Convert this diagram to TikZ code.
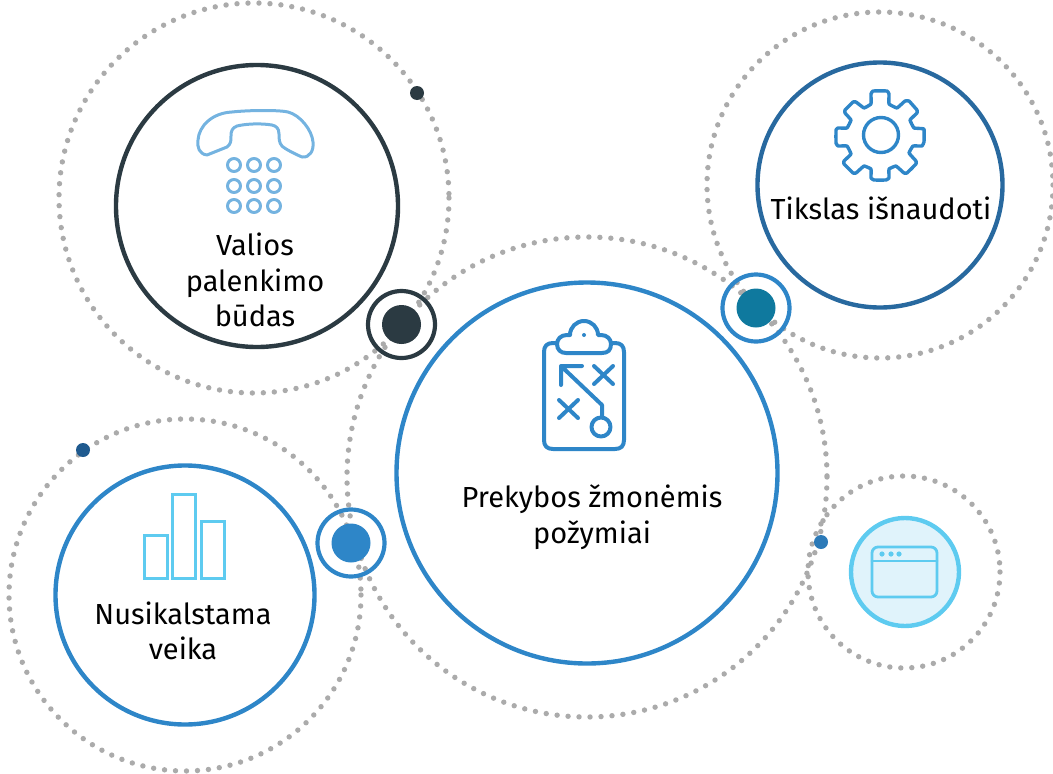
\documentclass[tikz,border=0pt]{standalone}
\usepackage{fontspec}
\setmainfont{Fira Sans}
\definecolor{dotgray}{HTML}{ABABAB}
\definecolor{darkslate}{HTML}{2B3A42}
\definecolor{midblue}{HTML}{2E86C8}
\definecolor{navyblue}{HTML}{28699F}
\definecolor{deepblue}{HTML}{1F5A8F}
\definecolor{teal}{HTML}{0F799E}
\definecolor{skyblue}{HTML}{5ECBF0}
\definecolor{phoneblue}{HTML}{74B3E0}
\definecolor{palesky}{HTML}{E0F3FB}
\tikzset{
 dotring/.style={draw=dotgray,line width=5.4pt,line cap=round,dash pattern=on 0pt off 11pt},
 bigcirc/.style={circle,draw=#1,line width=4.4pt,inner sep=0pt},
 hubring/.style={circle,draw=#1,line width=4.2pt,minimum size=67pt,inner sep=0pt},
 soliddot/.style={circle,fill=#1,inner sep=0pt},
 lbl/.style={align=center,font=\fontsize{29}{35.5}\selectfont,text=black},
 icon/.style={line width=3pt,line join=round,line cap=round}
}
\begin{document}
\begin{tikzpicture}[x=1pt,y=-1pt]
\useasboundingbox (0,0) rectangle (1053,774);
% dotted rings
\draw[dotring] (254,198) circle[radius=195];
\draw[dotring] (880,185) circle[radius=173];
\draw[dotring] (587,477) circle[radius=240];
\draw[dotring] (185,595) circle[radius=176];
\draw[dotring] (904,572) circle[radius=96];
% main circles
\node[bigcirc=darkslate,minimum size=282pt] (phone) at (257,206) {};
\node[bigcirc=navyblue,minimum size=245pt] (goal) at (880,185) {};
\node[bigcirc=midblue,minimum size=381pt] (signs) at (587,473) {};
\node[bigcirc=midblue,minimum size=259pt] (crime) at (185,595) {};
\node[bigcirc=skyblue,fill=palesky,minimum size=108pt] (window) at (905,572) {};
% hubs
\node[hubring=darkslate] (hubA) at (401.5,324.5) {};
\node[soliddot=darkslate,minimum size=39pt] (hubAd) at (401.5,324.5) {};
\node[hubring=midblue] (hubB) at (756,308) {};
\node[soliddot=teal,minimum size=39pt] (hubBd) at (756,308) {};
\node[hubring=midblue] (hubC) at (351,543) {};
\node[soliddot=midblue,minimum size=39pt] (hubCd) at (351,543) {};
% small dots
\node[soliddot=darkslate,minimum size=14pt] (dotA) at (417,93) {};
\node[soliddot=deepblue,minimum size=14pt] (dotB) at (83,450) {};
\node[soliddot=navyblue!40!midblue,minimum size=14pt] (dotC) at (821,542) {};
% labels
\node[lbl] (t1) at (255,280) {Valios\\palenkimo\\būdas};
\node[lbl] (t2) at (881,208) {Tikslas išnaudoti};
\node[lbl] (t3) at (592,517) {Prekybos žmonėmis\\požymiai};
\node[lbl] (t4) at (183,631) {Nusikalstama\\veika};
% phone icon
\begin{scope}[icon,draw=phoneblue]
\draw (207,155) .. controls (199,154) and (197,147) .. (198,140)
 .. controls (199,126) and (212,113) .. (232,112)
 .. controls (250,110) and (280,110) .. (288,112)
 .. controls (300,115) and (312,130) .. (313,142)
 .. controls (314,150) and (310,158) .. (302,157)
 .. controls (295,154) and (285,149) .. (282,146)
 .. controls (279,143) and (279,138) .. (279,134)
 .. controls (279,128) and (276,126) .. (272,125)
 .. controls (260,123) and (245,124) .. (237,126)
 .. controls (232,128) and (231,131) .. (231,136)
 .. controls (231,141) and (231,144) .. (227,147) -- cycle;
\foreach \cy in {165,186,206}
 \foreach \cx in {234,254,274}
  \draw (\cx,\cy) circle[radius=6.5];
\end{scope}
% clipboard icon
\begin{scope}[icon,draw=midblue,line width=4pt]
\draw (557,343) -- (553,343) .. controls (547,343) and (544,346) .. (544,352) -- (544,440) .. controls (544,446) and (547,449) .. (553,449) -- (615,449) .. controls (621,449) and (624,446) .. (624,440) -- (624,352) .. controls (624,346) and (621,343) .. (615,343) -- (611,343);
\draw (570,335) -- (567,335) .. controls (561,335) and (557,339) .. (557,344) .. controls (557,350) and (561,353) .. (566,353) -- (602,353) .. controls (608,353) and (611,350) .. (611,344) .. controls (611,339) and (607,335) .. (601,335) -- (598,335)
 arc[start angle=0,end angle=-180,radius=14];
\draw (561,366) -- (582,366) (561,366) -- (561,385) (561,366) -- (602,405) -- (602,417);
\draw (594,366) -- (613,384) (613,366) -- (594,384);
\draw (559,400) -- (578,418) (578,400) -- (559,418);
\draw (601,427) circle[radius=9.5];
\fill[midblue] (584,335) circle[radius=2];
\end{scope}
% gear icon
\begin{scope}[icon,draw=midblue,line width=3.4pt]
\draw plot[smooth cycle,tension=0.15] coordinates {
(873,91) (887,91) (889,94) (889,104) (897,108) (905,101) (909,101) (917,110) (917,113) (910,120) (914,128) (924,129) (924,142) (922,146) (913,146) (909,153) (916,161) (916,164) (907,173) (904,173) (896,166) (889,169) (889,178) (886,180) (874,180) (871,178) (871,169) (864,166) (856,173) (853,173) (844,164) (844,161) (851,154) (847,146) (838,146) (836,143) (836,130) (838,128) (847,128) (851,120) (845,113) (845,110) (853,102) (856,102) (864,108) (871,104) (871,94)};
\draw (881,135) circle[radius=17.5];
\end{scope}
% chart icon
\begin{scope}[line width=3pt,draw=skyblue,line join=miter]
\draw (144,535) rectangle (167,578);
\draw (172,494) rectangle (195,578);
\draw (201,521) rectangle (224,578);
\end{scope}
% window icon
\begin{scope}[icon,draw=skyblue,line width=2.8pt]
\draw[rounded corners=6pt] (872,547) rectangle (937,597);
\draw (872,561) -- (937,561);
\fill[skyblue] (882,554) circle[radius=2.6] (891,554) circle[radius=2.6] (899,554) circle[radius=2.6];
\end{scope}
\end{tikzpicture}
\end{document}
